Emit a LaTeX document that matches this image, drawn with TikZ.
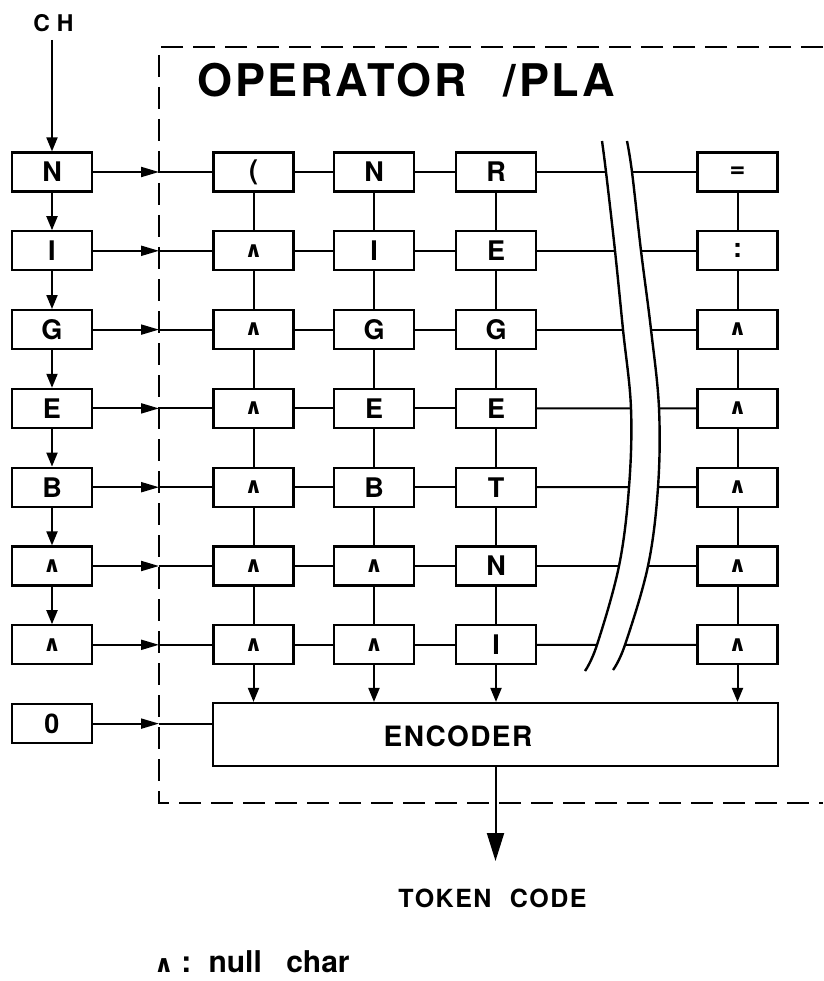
\documentclass[tikz,border=0pt]{standalone}
\usepackage{fontspec}
\setmainfont{TeX Gyre Heros}
\newfontfamily\wedgefont{DejaVu Sans}
\usetikzlibrary{arrows.meta}
\newcommand{\nul}{{\wedgefont\bfseries\fontsize{22}{22}\selectfont ∧}}
\newcommand{\nulbig}{{\wedgefont\bfseries\fontsize{24}{24}\selectfont ∧}}
\newcommand{\lpar}{(}
\begin{document}
\begin{tikzpicture}[x=1pt,y=-1pt,line width=2pt,
  box/.style={draw,line width=2.2pt,minimum width=80pt,minimum height=39pt,inner sep=0pt,
    font=\fontsize{27}{27}\selectfont\bfseries},
  arr/.style={-{Triangle[length=14pt,width=11pt]}},
  harr/.style={-{Triangle[length=18pt,width=10pt]}},
  bigarr/.style={-{Triangle[length=28pt,width=17pt]}},
  dashbox/.style={line width=2pt,dash pattern=on 22pt off 10pt},
  brk/.style={line width=2.4pt}]
\useasboundingbox (0,0) rectangle (823,981);

% title and input label
\node[anchor=base west,font=\fontsize{45}{45}\selectfont\bfseries\addfontfeature{LetterSpace=6}]
  (title) at (193,97) {OPERATOR \hspace{22pt}/PLA};
\node[anchor=base west,font=\fontsize{23}{23}\selectfont\bfseries\addfontfeature{LetterSpace=30}]
  (ch) at (29,32) {CH};

% dashed PLA boundary
\coordinate (dl) at (159,47);
\draw[dashbox] (823,47) -- (dl) -- (159,803) -- (823,803);

% left column (input shift register)
\foreach \lab [count=\i] in {N,I,G,E,B,\nul,\nul}
  \node[box] (L\i) at (52,{172+78.8*(\i-1)}) {\lab};
\node[box] (L8) at (52,723.6) {0};

% grid columns
\foreach \lab [count=\i] in {\lpar,\nul,\nul,\nul,\nul,\nul,\nul}
  \node[box] (A\i) at (253.5,{172+78.8*(\i-1)}) {\lab};
\foreach \lab [count=\i] in {N,I,G,E,B,\nul,\nul}
  \node[box] (B\i) at (374,{172+78.8*(\i-1)}) {\lab};
\foreach \lab [count=\i] in {R,E,G,E,T,N,I}
  \node[box] (C\i) at (496,{172+78.8*(\i-1)}) {\lab};
\foreach \lab [count=\i] in {=,:,\nul,\nul,\nul,\nul,\nul}
  \node[box] (D\i) at (737.5,{172+78.8*(\i-1)}) {\lab};

% encoder
\node[draw,line width=2.2pt,minimum width=565pt,minimum height=63pt,inner sep=0pt]
  (enc) at (495.5,734.5) {};
\node[font=\fontsize{28}{28}\selectfont\bfseries\addfontfeature{LetterSpace=5}]
  (enctxt) at (458,736.5) {ENCODER};

% break curves
\foreach \yy/\xl/\xr [count=\i] in {172/606/632,250.8/615/641,329.6/623/651,408.4/631/659,
    487.2/629/658,566/619/648,644.8/597/625} {
  \coordinate (bl\i) at (\xl,\yy);
  \coordinate (br\i) at (\xr,\yy);
}
\coordinate (blt) at (602,141); \coordinate (blb) at (585,671);
\coordinate (brt) at (627,141); \coordinate (brb) at (613,670);
\draw[brk] plot[smooth,tension=0.6] coordinates {(blt) (bl1) (bl2) (bl3) (bl4) (bl5) (bl6) (bl7) (blb)};
\draw[brk] plot[smooth,tension=0.6] coordinates {(brt) (br1) (br2) (br3) (br4) (br5) (br6) (br7) (brb)};

% input arrow
\coordinate (chin) at (52,40);
\draw[arr] (chin) -- (L1.north);

% left column shifts and row feeds
\foreach \i [evaluate=\i as \j using int(\i+1)] in {1,...,6}
  \draw[arr] (L\i.south) -- (L\j.north);
\foreach \i in {1,...,7} {
  \draw[harr] (L\i.east) -- (L\i.east -| dl);
  \draw (L\i.east -| dl) -- (A\i.west);
  \draw (A\i.east) -- (B\i.west);
  \draw (B\i.east) -- (C\i.west);
  \draw (C\i.east) -- (bl\i);
  \draw (br\i) -- (D\i.west);
}
\draw[harr] (L8.east) -- (L8.east -| dl);
\draw (L8.east -| dl) -- (L8.east -| enc.west);

% vertical links in the grid
\foreach \i [evaluate=\i as \j using int(\i+1)] in {1,...,6} {
  \draw (A\i.south) -- (A\j.north);
  \draw (B\i.south) -- (B\j.north);
  \draw (C\i.south) -- (C\j.north);
  \draw (D\i.south) -- (D\j.north);
}
\foreach \c in {A,B,C,D}
  \draw[arr] (\c7.south) -- (\c7.south |- enc.north);

% output
\coordinate (out) at (495.5,861);
\draw[bigarr] (enc.south) -- (out);
\node[font=\fontsize{25}{25}\selectfont\bfseries\addfontfeature{LetterSpace=6}]
  (tok) at (492.5,898.5) {TOKEN \hspace{10pt}CODE};

% legend
\node[anchor=base west,font=\fontsize{30}{30}\selectfont\bfseries,inner sep=0pt]
  (legend) at (153,972) {\nulbig\hspace{8pt}:\hspace{6pt} null\hspace{16pt} char};
\end{tikzpicture}
\end{document}
